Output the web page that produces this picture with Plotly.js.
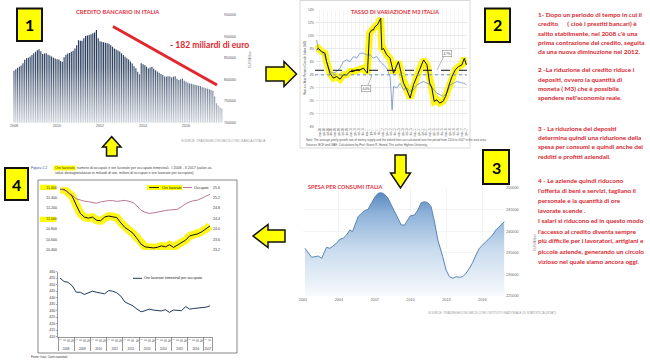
<!DOCTYPE html>
<html><head><meta charset="utf-8">
<script src="https://cdn.plot.ly/plotly-3.0.1.min.js"></script>
<style>html,body{margin:0;padding:0;background:#fff;}#chart{width:650px;height:360px;}</style>
</head><body><div id="chart"></div>
<script>
const W = 650, H = 360;
const fx = x => x / W, fy = y => 1 - y / H;
const dX = (a, b) => [a / W, b / W], dY = (t, b) => [1 - b / H, 1 - t / H];
const LATO = "Lato, 'Liberation Sans', sans-serif";
const SANS = "'Liberation Sans', Arial, sans-serif";

// ---------- 1: Credito bancario (EUR million, monthly from Jan 2008) ----------
const creditoValori = [
 820500, 824000, 827500, 830000, 833000, 838000, 846000, 849500, 851000, 853500, 857000, 861000,
 864500, 868000, 870500, 866000, 859500, 860500, 861000, 858000, 856000, 853500, 851000, 849000,
 847000, 846500, 843000, 841500, 852000, 857500, 860500, 862000, 864500, 867000, 872500, 880000,
 891500, 890000, 890500, 896000, 901000, 902500, 903500, 905500, 907500, 909500, 915000, 896000,
 889000, 888000, 886500, 885500, 884500, 883500, 880000, 876500, 872500, 870000, 867500, 865500,
 861000, 857000, 853000, 849500, 846500, 842000, 837500, 831000, 826500, 818000, 812500, 838000,
 835500, 833500, 830000, 826000, 828000, 829800, 825500, 822000, 819000, 816000, 813000, 810500,
 807500, 806500, 808000, 807000, 805000, 806500, 808000, 802000, 799000, 801000, 802500, 797500,
 795000, 792500, 791000, 790500, 789500, 788000, 787000, 786000, 785000, 782500, 781500, 780000,
 779000, 777500, 776000, 774000, 761000, 745000, 740000, 735000, 733000];
const creditoMesi = creditoValori.map((v, i) => (2008 + Math.floor(i / 12)) + '-' + String(i % 12 + 1).padStart(2, '0') + '-01');
const creditoTickAnni = ['2008', '2010', '2012', '2014', '2016'];
const creditoTickValori = [700000, 750000, 800000, 850000, 900000, 950000];

// ---------- 2: Tasso di variazione M3 ----------
const m3AnniNero = [2008.00, 2008.11, 2008.32, 2008.53, 2008.63, 2008.84, 2009.06, 2009.27, 2009.48, 2009.69, 2009.90, 2010.11, 2010.32, 2010.53, 2010.74, 2010.96, 2011.12, 2011.21, 2011.34, 2011.48, 2011.59, 2011.69, 2011.84, 2011.97, 2012.05, 2012.12, 2012.22, 2012.43, 2012.64, 2012.86, 2013.02, 2013.17, 2013.32, 2013.49, 2013.70, 2013.91, 2014.12, 2014.33, 2014.54, 2014.76, 2014.97, 2015.14, 2015.28, 2015.43, 2015.60, 2015.77, 2015.98, 2016.15, 2016.34, 2016.55, 2016.76, 2016.97, 2017.18, 2017.33, 2017.46];
const m3Nero = [7.85, 8.10, 7.59, 7.33, 6.05, 4.26, 3.49, 3.74, 3.33, 4.0, 4.0, 4.51, 4.51, 4.77, 4.77, 5.03, 4.51, 4.26, 10.41, 10.92, 10.92, 11.44, 11.69, 12.21, 12.72, 7.85, 8.10, 7.08, 6.56, 4.26, 5.28, 6.05, 4.51, 2.72, 1.69, 0.41, 2.46, 3.74, 5.03, 6.31, 5.54, 2.72, 1.95, -0.10, 0.15, -0.36, -0.10, 0.67, 2.21, 3.74, 4.77, 5.28, 5.54, 6.56, 5.54];
const m3AnniBlu = [2008.00, 2008.11, 2008.32, 2008.53, 2008.84, 2009.06, 2009.27, 2009.48, 2009.69, 2009.90, 2010.11, 2010.32, 2010.53, 2010.74, 2010.96, 2011.17, 2011.38, 2011.59, 2011.80, 2012.01, 2012.22, 2012.43, 2012.64, 2012.77, 2012.86, 2013.07, 2013.28, 2013.49, 2013.70, 2013.91, 2014.12, 2014.33, 2014.54, 2014.76, 2014.97, 2015.18, 2015.39, 2015.60, 2015.81, 2016.02, 2016.23, 2016.44, 2016.66, 2016.87, 2017.08, 2017.29, 2017.46];
const m3Blu = [9.38, 7.85, 7.59, 6.82, 4.51, 4.26, 4.51, 5.03, 6.05, 6.31, 6.05, 6.82, 6.56, 7.33, 7.33, 7.08, 7.08, 6.56, 6.82, 6.05, 5.54, 5.03, 3.74, -1.38, 2.21, 1.95, 2.72, 1.69, 1.95, 1.44, 1.69, 2.46, 2.72, 2.97, 2.72, 2.46, 1.69, 1.18, 0.92, 0.67, 1.18, 2.46, 2.72, 2.97, 2.82, 2.72, 2.46];
const m3MediaNero = 4.7, m3MediaBlu = 4.0;
const m3EtichettaNero = '4,7%', m3EtichettaBlu = '4,0%';
const m3Mesi = ['mar', 'giu', 'set', 'dic'];
const m3TickVal = [], m3TickTxt = [];
for (let a = 2008; a <= 2017; a++) for (let q = 0; q < 4; q++) { if (a === 2017 && q > 1) break; m3TickVal.push(a + 0.25 * q + 0.2); m3TickTxt.push(m3Mesi[q] + '-' + String(a).slice(2)); }

// ---------- 3: Spesa per consumi (EUR million) ----------
const consumiAnni = [2001.17, 2001.45, 2001.72, 2002.0, 2002.28, 2002.56, 2002.83, 2002.97, 2003.25, 2003.53, 2003.81, 2004.08, 2004.36, 2004.64, 2004.92, 2005.14, 2005.33, 2005.61, 2005.89, 2006.17, 2006.44, 2006.72, 2007.0, 2007.28, 2007.56, 2007.83, 2008.11, 2008.39, 2008.67, 2008.94, 2009.22, 2009.5, 2009.78, 2009.97, 2010.33, 2010.61, 2010.89, 2011.17, 2011.44, 2011.72, 2012.0, 2012.28, 2012.69, 2012.97, 2013.25, 2013.53, 2013.81, 2014.08, 2014.36, 2014.64, 2014.92, 2015.19, 2015.47, 2015.75, 2016.03, 2016.31, 2016.58, 2016.86, 2017.14, 2017.42, 2017.83];
const consumiValori = [236040, 234880, 233960, 234100, 234260, 233720, 235260, 236270, 236040, 236570, 237190, 238120, 238350, 239120, 240280, 239890, 241435, 243360, 244140, 244750, 245070, 246460, 247850, 248770, 248920, 248540, 247620, 246070, 244520, 242980, 241435, 241435, 242590, 243520, 243750, 244910, 246600, 246830, 246600, 245670, 242200, 237960, 234100, 231020, 229480, 229100, 229480, 229330, 229480, 230250, 231410, 232710, 234490, 236040, 236800, 237570, 238350, 239120, 240280, 241040, 242200];
const consumiTickAnni = [2001, 2004, 2007, 2010, 2013, 2016];
const consumiAsseMin = 225000, consumiAsseMax = 250000;

// ---------- 4: Ore lavorate, occupati, ore per occupato (trimestrali I 2008 - II 2017) ----------
const anni4 = ['2008', '2009', '2010', '2011', '2012', '2013', '2014', '2015', '2016', '2017'];
const trimestri = ['I', 'II', 'III', 'IV'];
const oreLavorate = [11560, 11560, 11500, 11430, 11260, 11100, 11030, 11010, 11030, 10970, 10960, 11030, 11050, 11040, 11020, 10920, 10830, 10780, 10720, 10620, 10510, 10460, 10450, 10440, 10450, 10480, 10460, 10500, 10450, 10500, 10540, 10590, 10670, 10690, 10710, 10750, 10800, 10860];
const occupati = [25.52, 25.50, 25.40, 25.30, 25.16, 25.10, 25.07, 25.05, 25.02, 24.99, 25.04, 25.08, 25.09, 25.09, 25.06, 25.08, 25.10, 25.06, 25.02, 24.88, 24.72, 24.64, 24.60, 24.62, 24.66, 24.69, 24.71, 24.73, 24.74, 24.76, 24.86, 24.97, 25.04, 25.09, 25.11, 25.20, 25.26, 25.33];
const orePerOccupato = [455.0, 452.5, 451.8, 449.2, 444.2, 444.2, 442.5, 443.8, 445.0, 444.2, 443.8, 443.0, 445.5, 445.0, 443.8, 441.2, 436.7, 435.0, 433.7, 431.2, 429.2, 430.0, 431.2, 430.5, 430.0, 429.8, 430.8, 428.7, 430.5, 430.5, 430.0, 433.2, 431.2, 431.7, 432.1, 432.3, 432.7, 433.7];
const oreTickVal = [10400, 10600, 10800, 11000, 11200, 11400, 11600];
const oreTickTxt = ['10.400', '10.600', '10.800', '11.000', '11.200', '11.400', '11.600'];
const x4 = [[], []];
oreLavorate.forEach((v, i) => { x4[0].push(anni4[Math.floor(i / 4)]); x4[1].push(trimestri[i % 4]); });

// ---------- traces ----------
const traces = [
  {type: 'bar', x: creditoMesi, y: creditoValori, xaxis: 'x', yaxis: 'y', marker: {color: '#1f3556', line: {width: 0}}, hoverinfo: 'skip'},
  {type: 'scatter', mode: 'lines', x: m3AnniNero, y: m3Nero, xaxis: 'x2', yaxis: 'y2', line: {color: 'rgba(255,245,0,0.9)', width: 7}, hoverinfo: 'skip'},
  {type: 'scatter', mode: 'lines', x: m3AnniBlu, y: m3Blu, xaxis: 'x2', yaxis: 'y2', line: {color: '#6f8fc0', width: 0.8}, hoverinfo: 'skip'},
  {type: 'scatter', mode: 'lines', x: m3AnniNero, y: m3Nero, xaxis: 'x2', yaxis: 'y2', line: {color: '#111', width: 1}, hoverinfo: 'skip'},
  // invisible baseline at the bottom of the consumption axis, used as the fill floor
  {type: 'scatter', mode: 'lines', x: [consumiAnni[0], consumiAnni[consumiAnni.length - 1]], y: [consumiAsseMin, consumiAsseMin],
   xaxis: 'x3', yaxis: 'y3', line: {width: 0, color: 'rgba(0,0,0,0)'}, hoverinfo: 'skip'},
  {type: 'scatter', mode: 'lines', x: consumiAnni, y: consumiValori, xaxis: 'x3', yaxis: 'y3', fill: 'tonexty',
   fillcolor: 'rgba(150,185,220,0.6)',
   fillgradient: {type: 'vertical', start: consumiAsseMin, stop: 249000, colorscale: [[0, '#f7fafd'], [0.45, '#c9dbee'], [0.8, '#8db1d9'], [1, '#5788bf']]},
   line: {color: '#5a85b4', width: 1}, hoverinfo: 'skip'},
  {type: 'scatter', mode: 'lines', x: x4, y: oreLavorate, xaxis: 'x4', yaxis: 'y4', line: {color: 'rgba(255,245,0,0.9)', width: 8}, hoverinfo: 'skip'},
  {type: 'scatter', mode: 'lines', x: x4, y: oreLavorate, xaxis: 'x4', yaxis: 'y4', line: {color: '#111', width: 1}, hoverinfo: 'skip'},
  {type: 'scatter', mode: 'lines', x: x4, y: occupati, xaxis: 'x4', yaxis: 'y5', line: {color: '#b2678a', width: 0.9}, hoverinfo: 'skip'},
  {type: 'scatter', mode: 'lines', x: x4, y: orePerOccupato, xaxis: 'x5', yaxis: 'y6', line: {color: '#1f3a63', width: 1}, hoverinfo: 'skip'}
];

// ---------- annotations ----------
function T(text, x, y, o) {
  o = o || {};
  const font = Object.assign({family: LATO, size: 7, color: '#333'}, o.font || {});
  return Object.assign({text: text, x: fx(x), y: fy(y), xref: 'paper', yref: 'paper', showarrow: false,
    xanchor: 'left', yanchor: 'middle', align: 'left', borderpad: 0}, o, {font: font});
}
const RED = '#d9262f';
const righe = [
  ['1- Dopo un periodo di tempo in cui il', 15],
  ['credito\u00a0\u00a0\u00a0\u00a0\u00a0 ( cioè i prestiti bancari) è', 24],
  ["salito stabilmente, nel 2008 c'è una", 33.3],
  ['prima contrazione del credito, seguita', 42.7],
  ['da una nuova diminuzione nel 2012.', 51.7],
  ['2 -La riduzione del credito riduce i', 70],
  ['depositi, ovvero la quantità di', 79.3],
  ['moneta ( M3) che è possibile', 88.3],
  ["spendere nell'economia reale.", 97.7],
  ['3 - La riduzione dei depositi', 128.3],
  ['determina quindi una riduzione della', 137.3],
  ['spesa per consumi e quindi anche dei', 146.7],
  ['redditi e profitti aziendali.', 156],
  ['4 - Le aziende quindi riducono', 180],
  ["l'offerta di beni e servizi, tagliano il", 190],
  ['personale e la quantità di ore', 200],
  ['lavorate scende .', 210],
  ['I salari si riducono ed in questo modo', 220.7],
  ["l'accesso al credito diventa sempre", 231],
  ['più difficile per i lavoratori, artigiani e', 241],
  ['piccole aziende, generando un circolo', 251],
  ['vizioso nel quale siamo ancora oggi.', 261.7]
];
const annotations = righe.map(r => T(r[0], 537, r[1], {font: {size: 6.4, color: RED, weight: 'bold'}}));

const TITLE_RED = '#e2343f';
annotations.push(
  T('CREDITO BANCARIO IN ITALIA', 75, 12, {font: {size: 5.8, color: TITLE_RED, weight: 'bold'}}),
  T('- 182 miliardi di euro', 169, 45, {font: {size: 8.6, color: '#e0262d', weight: 'bold'}}),
  T('TASSO DI VARIAZIONE M3 ITALIA', 395, 11, {xanchor: 'center', font: {size: 5.6, color: TITLE_RED, weight: 'bold'}}),
  T('SPESA PER CONSUMI ITALIA', 307, 186, {font: {size: 5.6, color: TITLE_RED, weight: 'bold'}}),
  T('EUR Million', 250, 60, {xanchor: 'center', textangle: -90, font: {size: 3.2, color: '#777', family: SANS}}),
  T('EUR Million', 535, 243, {xanchor: 'center', textangle: -90, font: {size: 3.2, color: '#777', family: SANS}}),
  T("SOURCE: TRADINGECONOMICS.COM | BANCA D'ITALIA", 180, 141.5, {font: {size: 3.2, color: '#999', family: SANS}}),
  T('SOURCE: TRADINGECONOMICS.COM | ISTITUTO NAZIONALE DI STATISTICA (ISTAT)', 427, 313, {font: {size: 3.2, color: '#999', family: SANS}}),
  T('Year-on-Year Percent Growth Index (M3)', 305, 68, {xanchor: 'center', textangle: -90, font: {size: 3, color: '#555', family: SANS}}),
  T('Note: The average yearly growth rate of money supply and the dotted lines are calculated over the period from 2010 to 2017 in the euro area.', 305, 140.5, {font: {size: 2.9, color: '#555', family: SANS}}),
  T('Sources: BCE and ISAE. Calculations by Prof. Gianni R. Hamid. The author Hightes University.', 305, 145, {font: {size: 2.9, color: '#555', family: SANS}}),
  T(m3EtichettaNero, 447, 53, {xanchor: 'center', bordercolor: '#777', borderwidth: 0.5, bgcolor: '#fff', borderpad: 1, font: {size: 3, family: SANS, color: '#333'}}),
  T(m3EtichettaBlu, 366, 88, {xanchor: 'center', bordercolor: '#777', borderwidth: 0.5, bgcolor: '#fff', borderpad: 1, font: {size: 3, family: SANS, color: '#333'}}),
  T('Figura 1.2', 30, 168, {font: {size: 3.6, color: '#2f4f8f', family: SANS}}),
  T('Ore lavorate, numero di occupati e ore lavorate per occupato trimestrali.  I 2008 - II 2017 (valori as-', 54, 168, {font: {size: 3.6, color: '#444', family: SANS}}),
  T('soluti destagionalizzati in miliardi di ore, milioni di occupati e ore lavorate per occupato)', 54, 173.3, {font: {size: 3.6, color: '#444', family: SANS}}),
  T('Ore lavorate', 160.5, 187.5, {font: {size: 3.6, color: '#222', family: SANS}}),
  T('Occupati', 193, 187.5, {font: {size: 3.6, color: '#222', family: SANS}}),
  T('Ore lavorate trimestrali per occupato', 143, 278.3, {font: {size: 3.6, color: '#222', family: SANS}}),
  T('Fonte: Istat, Conti nazionali', 30, 356.5, {font: {size: 3, color: '#333', family: SANS}}),
  T('1', 29.5, 25, {xanchor: 'center', font: {size: 16, color: '#000', weight: 'bold'}}),
  T('2', 497.5, 25, {xanchor: 'center', font: {size: 16, color: '#000', weight: 'bold'}}),
  T('3', 496, 167, {xanchor: 'center', font: {size: 16, color: '#000', weight: 'bold'}}),
  T('4', 16.5, 184, {xanchor: 'center', font: {size: 16, color: '#000', weight: 'bold'}})
);

// ---------- shapes ----------
const P = pts => 'M ' + pts.map(p => fx(p[0]) + ',' + fy(p[1])).join(' L ') + ' Z';
const rect = (x0, y0, x1, y1, o) => Object.assign({type: 'rect', xref: 'paper', yref: 'paper', x0: fx(x0), x1: fx(x1), y0: fy(y0), y1: fy(y1)}, o);
const lineP = (x0, y0, x1, y1, o) => Object.assign({type: 'line', xref: 'paper', yref: 'paper', x0: fx(x0), x1: fx(x1), y0: fy(y0), y1: fy(y1)}, o);
const arrowStyle = {type: 'path', xref: 'paper', yref: 'paper', fillcolor: '#ffff00', line: {color: '#111', width: 1.5}, layer: 'above'};
const yellowBox = {fillcolor: '#ffff00', line: {color: '#111', width: 2}, layer: 'above'};
const shapes = [
  rect(300, 0.5, 470, 148, {fillcolor: '#fff', line: {color: '#cfcfcf', width: 0.8}, layer: 'below'}),
  rect(38, 180, 237, 353, {fillcolor: 'rgba(0,0,0,0)', line: {color: '#555', width: 0.7}, layer: 'below'}),
  rect(53.5, 165.5, 75.5, 170.5, {fillcolor: '#ffff00', line: {width: 0}, layer: 'below'}),
  rect(40, 184.8, 56, 190, {fillcolor: '#ffff00', line: {width: 0}, layer: 'below'}),
  rect(40, 216.8, 56, 222, {fillcolor: '#ffff00', line: {width: 0}, layer: 'below'}),
  rect(147, 185, 182, 190, {fillcolor: '#ffff00', line: {width: 0}, layer: 'below'}),
  lineP(149, 187.5, 159, 187.5, {line: {color: '#111', width: 0.9}}),
  lineP(183, 187.5, 192, 187.5, {line: {color: '#b2678a', width: 0.9}}),
  lineP(133, 278.3, 142, 278.3, {line: {color: '#1f3a63', width: 1}}),
  {type: 'line', xref: 'x2 domain', yref: 'y2', x0: 0, x1: 1, y0: m3MediaNero, y1: m3MediaNero, line: {color: '#111', width: 1, dash: 'dash'}},
  {type: 'line', xref: 'x2 domain', yref: 'y2', x0: 0, x1: 1, y0: m3MediaBlu, y1: m3MediaBlu, line: {color: '#6f8fc0', width: 1, dash: 'dot'}},
  lineP(444, 56, 437, 70, {line: {color: '#777', width: 0.5}}),
  lineP(368, 85, 372, 75, {line: {color: '#777', width: 0.5}}),
  lineP(113, 26.5, 217, 85, {line: {color: '#e3262d', width: 3}}),
  Object.assign({path: P([[266, 67], [284, 67], [284, 61.5], [296.5, 74], [284, 86.5], [284, 81], [266, 81]])}, arrowStyle),
  Object.assign({path: P([[395, 155], [406, 155], [406, 173], [410.5, 173], [400.5, 188], [390.5, 173], [395, 173]])}, arrowStyle),
  Object.assign({path: P([[285, 230], [268, 230], [268, 224.5], [253, 236], [268, 247.5], [268, 242], [285, 242]])}, arrowStyle),
  Object.assign({path: P([[106.5, 156], [106.5, 147], [102.5, 147], [111.7, 136.7], [121, 147], [117, 147], [117, 156]])}, arrowStyle),
  rect(17, 8.5, 42, 41, yellowBox),
  rect(485, 8.5, 510, 42, yellowBox),
  rect(483, 150, 509, 184, yellowBox),
  rect(5, 168, 28, 200, yellowBox)
];

const svgGrad = "<svg xmlns='http://www.w3.org/2000/svg' width='100' height='100' preserveAspectRatio='none'><defs><linearGradient id='g' x1='0' y1='0' x2='0' y2='1'><stop offset='0' stop-color='white' stop-opacity='0'/><stop offset='0.4' stop-color='white' stop-opacity='0.1'/><stop offset='1' stop-color='white' stop-opacity='0.8'/></linearGradient></defs><rect width='100' height='100' fill='url(#g)'/></svg>";
const images = [{source: 'data:image/svg+xml;charset=utf-8,' + encodeURIComponent(svgGrad), xref: 'paper', yref: 'paper',
  x: fx(12), y: fy(30), sizex: 211 / W, sizey: 93 / H, sizing: 'stretch', xanchor: 'left', yanchor: 'top', layer: 'above'}];

const tf = (s, c) => ({family: SANS, size: s, color: c || '#666'});
const layout = {
  width: W, height: H, margin: {l: 0, r: 0, t: 0, b: 0}, showlegend: false,
  paper_bgcolor: '#fff', plot_bgcolor: 'rgba(0,0,0,0)', bargap: 0.3,
  xaxis: {domain: dX(12, 223), anchor: 'y', type: 'date', range: ['2007-11-28', '2017-09-20'],
    tickvals: creditoTickAnni.map(a => a + '-01-01'), ticktext: creditoTickAnni, tickfont: tf(3.6, '#555'), showgrid: false, zeroline: false, ticks: ''},
  yaxis: {domain: dY(15, 122.7), anchor: 'x', side: 'right', range: [700000, 950000], tickvals: creditoTickValori, tickformat: 'd',
    tickfont: tf(3.6, '#555'), showgrid: false, zeroline: false},
  xaxis2: {domain: dX(315, 467), anchor: 'y2', range: [2007.9, 2017.5], tickvals: m3TickVal, ticktext: m3TickTxt, tickangle: -90,
    tickfont: tf(2.6, '#555'), showgrid: true, gridcolor: '#ececec', gridwidth: 0.6, zeroline: false},
  yaxis2: {domain: dY(10, 126.7), anchor: 'x2', range: [-4, 14], dtick: 2, ticksuffix: '%', tickfont: tf(3, '#555'),
    gridcolor: '#dcdcdc', gridwidth: 0.6, zeroline: false},
  xaxis3: {domain: dX(303, 505), anchor: 'y3', range: [2001, 2017.9], tickvals: consumiTickAnni, tickfont: tf(3.8, '#666'),
    gridcolor: '#ececec', gridwidth: 0.6, zeroline: false},
  yaxis3: {domain: dY(188, 296), anchor: 'x3', side: 'right', range: [consumiAsseMin, consumiAsseMax], dtick: 5000, tickformat: 'd', tickfont: tf(3.8, '#666'),
    gridcolor: '#ececec', gridwidth: 0.6, zeroline: false},
  xaxis4: {domain: dX(58, 212), anchor: 'y4', type: 'multicategory', range: [-0.5, 37.5], showticklabels: false, showgrid: false, showdividers: false, ticks: ''},
  yaxis4: {domain: dY(187.3, 250), anchor: 'x4', range: [10400, 11600], tickvals: oreTickVal, ticktext: oreTickTxt, tickfont: tf(3.6, '#333'), showgrid: false, zeroline: false},
  yaxis5: {overlaying: 'y4', anchor: 'x4', side: 'right', range: [23.2, 25.6], dtick: 0.4, tickformat: '.1f', tickfont: tf(3.6, '#333'), showgrid: false, zeroline: false},
  xaxis5: {domain: dX(58, 212), anchor: 'y6', type: 'multicategory', range: [-0.5, 37.5], tickfont: tf(3, '#333'), showgrid: false,
    showline: true, linecolor: '#555', linewidth: 0.6, showdividers: true, dividercolor: '#555', dividerwidth: 0.6, ticks: ''},
  yaxis6: {domain: dY(271.7, 336.7), anchor: 'x5', range: [410, 460], dtick: 5, tickfont: tf(3.6, '#333'), showgrid: false, zeroline: false,
    showline: true, linecolor: '#555', linewidth: 0.6, ticks: 'outside', ticklen: 1.5, tickwidth: 0.5, tickcolor: '#555'},
  annotations: annotations, shapes: shapes, images: images
};
Plotly.newPlot('chart', traces, layout, {displayModeBar: false, staticPlot: true});
</script></body></html>
